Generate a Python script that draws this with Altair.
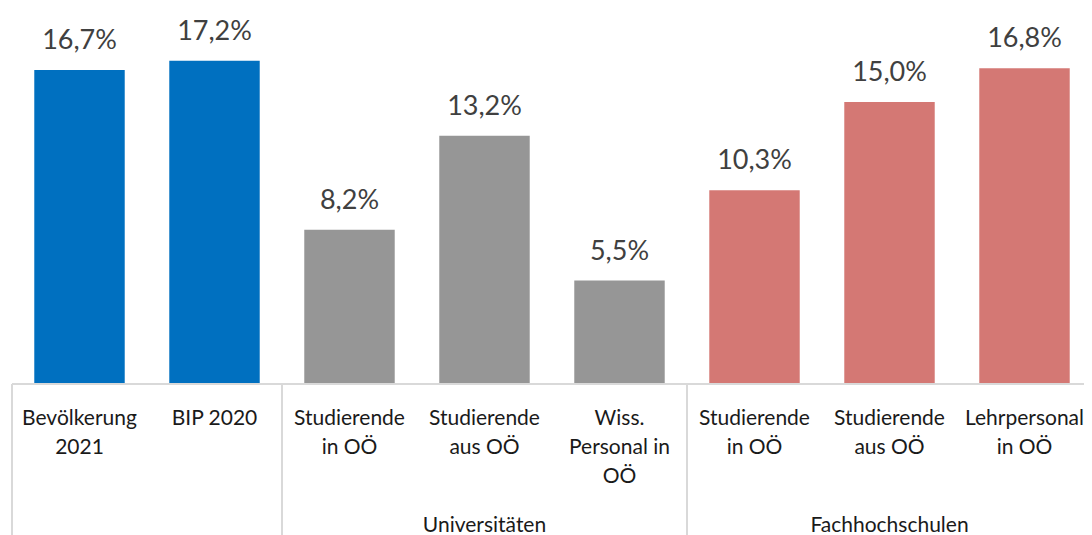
import altair as alt
import pandas as pd

keys = ["c1", "c2", "c3", "c4", "c5", "c6", "c7", "c8"]
labels = ["Bevölkerung\n2021", "BIP 2020", "Studierende\nin OÖ", "Studierende\naus OÖ",
          "Wiss.\nPersonal in\nOÖ", "Studierende\nin OÖ", "Studierende\naus OÖ", "Lehrpersonal\nin OÖ"]
values = [16.7, 17.2, 8.2, 13.2, 5.5, 10.3, 15.0, 16.8]
groups = ["Oberösterreich", "Oberösterreich", "Universitäten", "Universitäten", "Universitäten",
          "Fachhochschulen", "Fachhochschulen", "Fachhochschulen"]
group_names = ["Oberösterreich", "Universitäten", "Fachhochschulen"]
group_colors = ["#0070C0", "#969696", "#D47874"]
group_label_keys = ["c4", "c7"]
group_label_texts = ["Universitäten", "Fachhochschulen"]
sep_keys = ["c1", "c3", "c6"]

df = pd.DataFrame({
    "key": keys,
    "label": labels,
    "value": values,
    "group": groups,
    "vlabel": [f"{v:.1f}".replace(".", ",") + "%" for v in values],
})
gdf = pd.DataFrame({"key": group_label_keys, "text": group_label_texts})
sdf = pd.DataFrame({"key": sep_keys})

W, H = 1072, 376      # visible view
XR = 1080             # full category range (right end lies at the window edge)
FONT = "Lato"

xscale = alt.Scale(domain=keys, paddingInner=0, paddingOuter=0, range=[0, XR])

base = alt.Chart(df)

bars = base.mark_bar(width=alt.RelativeBandSize(0.67)).encode(
    x=alt.X("key:N", scale=xscale, axis=None, sort=keys),
    y=alt.Y("value:Q", scale=alt.Scale(domain=[0, 20]), axis=None),
    color=alt.Color("group:N", scale=alt.Scale(domain=group_names, range=group_colors), legend=None),
)

baseline = alt.Chart(pd.DataFrame({"key": ["c1"], "key2": ["c8"]})).mark_rule(
    color="#d9d9d9", strokeWidth=2).encode(
    x=alt.X("key:N", scale=xscale, sort=keys, bandPosition=0),
    x2=alt.X2("key2:N", bandPosition=1),
    y=alt.value(H),
)

vlabels = base.mark_text(font=FONT, fontSize=27, color="#404040", baseline="alphabetic", dy=-21).encode(
    x=alt.X("key:N", scale=xscale, sort=keys),
    y=alt.Y("value:Q"),
    text="vlabel:N",
)

clabels = base.mark_text(font=FONT, fontSize=21, color="#1a1a1a", baseline="alphabetic",
                         lineBreak="\n", lineHeight=29).encode(
    x=alt.X("key:N", scale=xscale, sort=keys),
    y=alt.value(H + 41),
    text="label:N",
)

glabels = alt.Chart(gdf).mark_text(font=FONT, fontSize=21, color="#1a1a1a", baseline="alphabetic").encode(
    x=alt.X("key:N", scale=xscale, sort=keys),
    y=alt.value(H + 148),
    text="text:N",
)

seps = alt.Chart(sdf).mark_rule(color="#d9d9d9", strokeWidth=2).encode(
    x=alt.X("key:N", scale=xscale, sort=keys, bandPosition=0),
    y=alt.value(H),
    y2=alt.value(H + 151),
)

chart = alt.layer(bars, baseline, vlabels, clabels, glabels, seps).properties(
    width=W, height=H,
    autosize=alt.AutoSizeParams(type="none"),
    padding={"left": 4, "top": 0, "right": 0, "bottom": 151},
).configure_view(stroke=None)

chart.save("out.html", embed_options={"renderer": "svg", "actions": False})
